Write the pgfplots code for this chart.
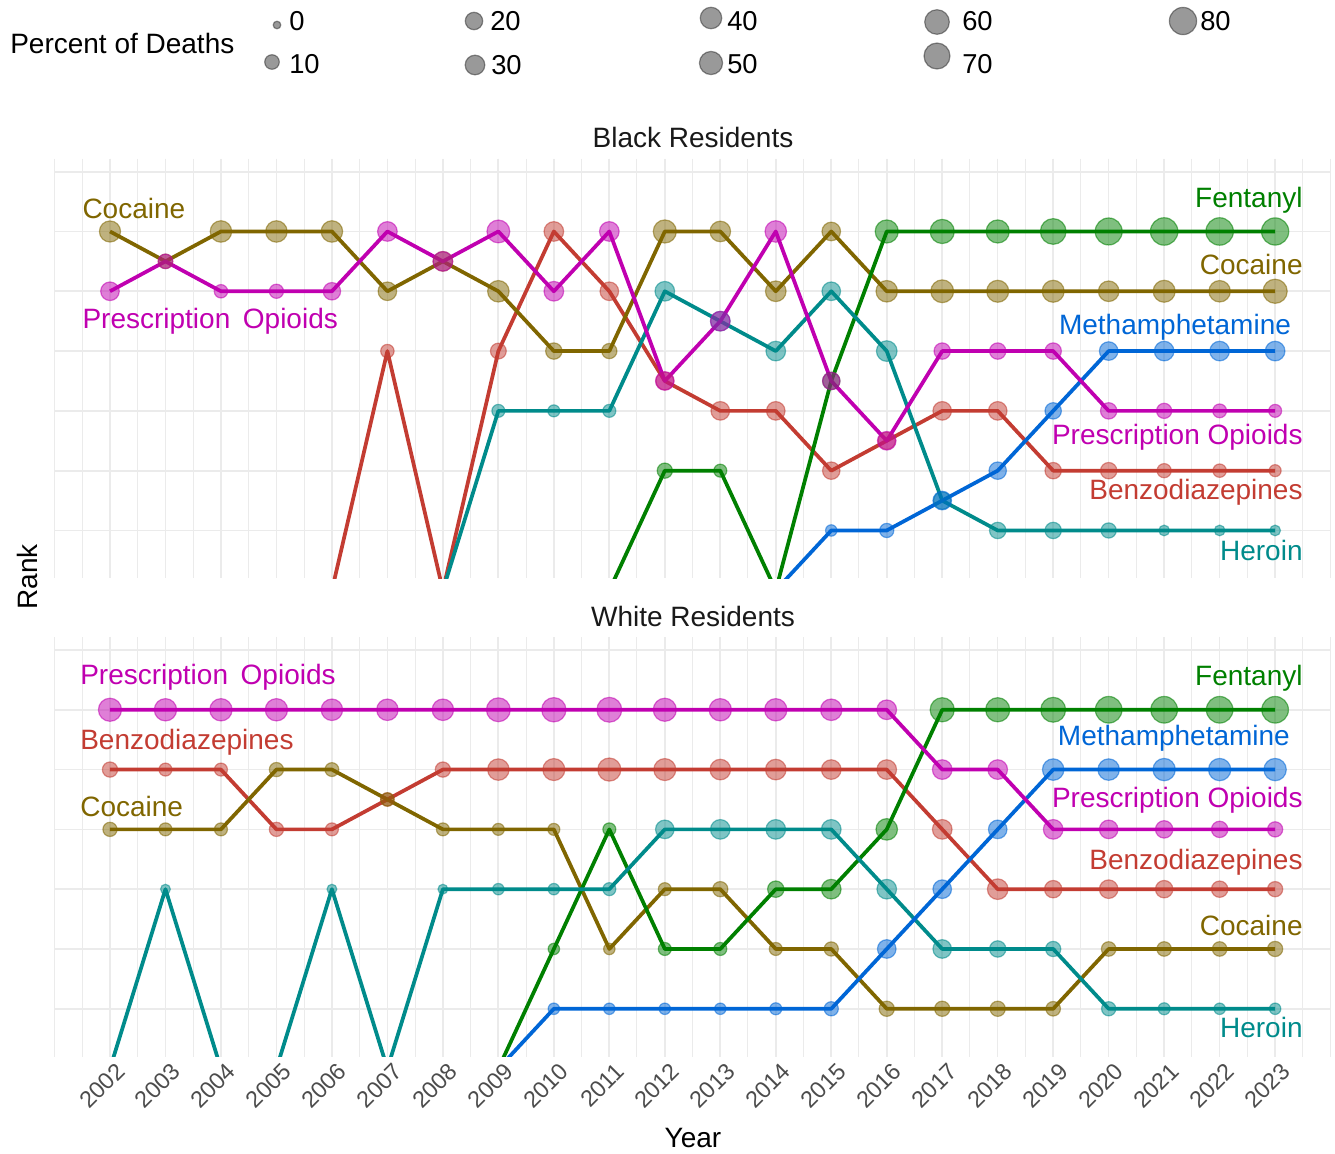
\documentclass[border=0pt]{standalone}
\usepackage{pgfplots}
\usepackage{pgfplotstable}
\usepackage{fontspec}
\setmainfont{Liberation Sans}
\pgfplotsset{compat=1.18}
\definecolor{benzC}{RGB}{195,60,50}
\definecolor{cocC}{RGB}{128,102,0}
\definecolor{fenC}{RGB}{0,128,0}
\definecolor{herC}{RGB}{0,139,139}
\definecolor{methC}{RGB}{0,102,214}
\definecolor{opiC}{RGB}{192,0,176}
\definecolor{gridC}{RGB}{235,235,235}
\newcommand\lbl{\fontsize{21}{24}\selectfont}
\newcommand\tkl{\fontsize{17.5}{20}\selectfont}
\newcommand\lgd{\fontsize{20.5}{23}\selectfont}

% ---------- Black residents: year rank percent ----------
\pgfplotstableread{
year rank p
2006 7 0
2007 3 7
2008 7 0
2009 3 14
2010 1 30
2011 2 25
2012 3.5 22
2013 4 25
2014 4 25
2015 5 20
2016 4.5 20
2017 4 25
2018 4 25
2019 5 16
2020 5 16
2021 5 9
2022 5 7
2023 5 4
}\BBenz
\pgfplotstableread{
year rank p
2002 1 38
2003 1.5 10
2004 1 40
2005 1 40
2006 1 40
2007 2 25
2008 1.5 30
2009 2 40
2010 3 16
2011 3 12
2012 1 50
2013 1 35
2014 2 35
2015 1 25
2016 2 40
2017 2 48
2018 2 43
2019 2 43
2020 2 35
2021 2 43
2022 2 40
2023 2 57
}\BCoc
\pgfplotstableread{
year rank p
2011 7 0
2012 5 12
2013 5 6
2014 7 0
2015 3.5 20
2016 1 50
2017 1 57
2018 1 50
2019 1 68
2020 1 78
2021 1 82
2022 1 82
2023 1 80
}\BFen
\pgfplotstableread{
year rank p
2008 7 0
2009 4 6
2010 4 4
2011 4 6
2012 2 30
2013 2.5 30
2014 3 30
2015 2 25
2016 3 35
2017 5.5 20
2018 6 16
2019 6 16
2020 6 12
2021 6 2
2022 6 2
2023 6 2
}\BHer
\pgfplotstableread{
year rank p
2014 7 0
2015 6 3
2016 6 9
2017 5.5 25
2018 5 20
2019 4 16
2020 3 25
2021 3 30
2022 3 30
2023 3 30
}\BMeth
\pgfplotstableread{
year rank p
2002 2 25
2003 1.5 10
2004 2 7
2005 2 9
2006 2 20
2007 1 30
2008 1.5 30
2009 1 48
2010 2 30
2011 1 30
2012 3.5 25
2013 2.5 30
2014 1 40
2015 3.5 20
2016 4.5 25
2017 3 16
2018 3 16
2019 3 16
2020 4 16
2021 4 12
2022 4 8
2023 4 6
}\BOpi

% ---------- White residents ----------
\pgfplotstableread{
year rank p
2002 2 12
2003 2 6
2004 2 6
2005 3 9
2006 3 6
2007 2.5 7
2008 2 12
2009 2 40
2010 2 43
2011 2 50
2012 2 43
2013 2 35
2014 2 35
2015 2 30
2016 2 30
2017 3 30
2018 4 35
2019 4 20
2020 4 25
2021 4 20
2022 4 16
2023 4 12
}\WBenz
\pgfplotstableread{
year rank p
2002 3 9
2003 3 6
2004 3 6
2005 2 9
2006 2 8
2007 2.5 7
2008 3 6
2009 3 4
2010 3 4
2011 5 3
2012 4 6
2013 4 12
2014 5 6
2015 5 9
2016 6 12
2017 6 12
2018 6 12
2019 6 10
2020 5 10
2021 5 10
2022 5 10
2023 5 12
}\WCoc
\pgfplotstableread{
year rank p
2009 7 0
2010 5 3
2011 3 6
2012 5 6
2013 5 6
2014 4 16
2015 4 30
2016 3 40
2017 1 57
2018 1 57
2019 1 62
2020 1 75
2021 1 75
2022 1 75
2023 1 75
}\WFen
\pgfplotstableread{
year rank p
2002 7 0
2003 4 1
2004 7 0
2005 7 0
2006 4 1
2007 7 0
2008 4 1
2009 4 3
2010 4 3
2011 4 6
2012 3 25
2013 3 30
2014 3 30
2015 3 30
2016 4 30
2017 5 25
2018 5 16
2019 5 12
2020 6 9
2021 6 4
2022 6 3
2023 6 3
}\WHer
\pgfplotstableread{
year rank p
2009 7 0
2010 6 3
2011 6 3
2012 6 3
2013 6 3
2014 6 4
2015 6 9
2016 5 25
2017 4 25
2018 3 25
2019 2 40
2020 2 40
2021 2 45
2022 2 45
2023 2 45
}\WMeth
\pgfplotstableread{
year rank p
2002 1 50
2003 1 45
2004 1 45
2005 1 45
2006 1 40
2007 1 40
2008 1 40
2009 1 55
2010 1 58
2011 1 62
2012 1 50
2013 1 45
2014 1 45
2015 1 40
2016 1 30
2017 2 30
2018 2 30
2019 3 30
2020 3 25
2021 3 20
2022 3 16
2023 3 12
}\WOpi

% ---------- size legend ----------
\pgfplotstableread{
x y p
277 25 0
272 62 10
474 21 20
475 65 30
711 18 40
711 63 50
937 22 60
937 56 70
1183 21 80
}\SizeLeg

\pgfplotsset{
  ln/.style={line width=2.8pt, line join=round, no markers, color=#1},
  ptsbase/.style={scatter, only marks, mark=*, point meta=\thisrow{p},
    scatter/use mapped color={draw=#1, fill=#1},
    visualization depends on={(3.8+9.8*sqrt(\thisrow{p}/80))*0.75 \as \msz},
    scatter/@pre marker code/.append style={/tikz/mark size=\msz pt},
    mark options={fill opacity=0.5, draw opacity=0.55, line width=0.9pt}},
  pts/.style={ptsbase=#1, restrict y to domain=-1:6.5},
  panel/.style={
    scale only axis, width=957.08pt, height=314.85pt,
    xmin=2001, xmax=2024, ymin=-0.22, ymax=6.8, y dir=reverse,
    xtick={2002,...,2023}, minor xtick={2001,2001.5,...,2024},
    ytick={0,...,6}, yticklabels={},
    grid=both,
    major grid style={draw=gridC, line width=1.3pt},
    minor grid style={draw=gridC, line width=0.7pt},
    axis line style={draw=none}, tick style={draw=none},
    major tick length=0pt, minor tick length=0pt,
    clip=true},
}

\begin{document}
\begin{tikzpicture}
\path[use as bounding box] (0pt,0pt) rectangle (1001.25pt,-864.75pt);

% ---------- legend axis ----------
\begin{axis}[at={(0pt,0pt)}, anchor=north west, scale only axis,
  width=1001.25pt, height=75pt, xmin=0, xmax=1335, ymin=0, ymax=100,
  y dir=reverse, hide axis, clip=false]
\addplot[ptsbase=black!80] table[x=x, y=y] {\SizeLeg};
\node[anchor=west, inner sep=0pt, font=\lbl] at (axis cs:10,43) {Percent of Deaths};
\node[anchor=west, inner sep=0pt, font=\lgd] at (axis cs:289,21) {0};
\node[anchor=west, inner sep=0pt, font=\lgd] at (axis cs:289,64) {10};
\node[anchor=west, inner sep=0pt, font=\lgd] at (axis cs:490,21) {20};
\node[anchor=west, inner sep=0pt, font=\lgd] at (axis cs:491,65) {30};
\node[anchor=west, inner sep=0pt, font=\lgd] at (axis cs:727,21) {40};
\node[anchor=west, inner sep=0pt, font=\lgd] at (axis cs:727,64) {50};
\node[anchor=west, inner sep=0pt, font=\lgd] at (axis cs:962,21) {60};
\node[anchor=west, inner sep=0pt, font=\lgd] at (axis cs:962,64) {70};
\node[anchor=west, inner sep=0pt, font=\lgd] at (axis cs:1200,21) {80};
\end{axis}

% ---------- Black residents ----------
\begin{axis}[panel, at={(40.875pt,-118.875pt)}, anchor=north west,
  xticklabels={}]
\addplot[ln=benzC] table[x=year,y=rank] {\BBenz};
\addplot[ln=cocC] table[x=year,y=rank] {\BCoc};
\addplot[ln=fenC] table[x=year,y=rank] {\BFen};
\addplot[ln=herC] table[x=year,y=rank] {\BHer};
\addplot[ln=methC] table[x=year,y=rank] {\BMeth};
\addplot[ln=opiC] table[x=year,y=rank] {\BOpi};
\addplot[pts=benzC] table[x=year,y=rank] {\BBenz};
\addplot[pts=cocC] table[x=year,y=rank] {\BCoc};
\addplot[pts=fenC] table[x=year,y=rank] {\BFen};
\addplot[pts=herC] table[x=year,y=rank] {\BHer};
\addplot[pts=methC] table[x=year,y=rank] {\BMeth};
\addplot[pts=opiC] table[x=year,y=rank] {\BOpi};
\node[anchor=west, inner sep=0pt, font=\lbl, text=cocC] at (axis cs:2001.5,0.62) {Cocaine};
\node[anchor=west, inner sep=0pt, font=\lbl, text=opiC] at (axis cs:2001.5,2.5) {Prescription\hspace{0.45em}Opioids};
\node[anchor=east, inner sep=0pt, font=\lbl, text=fenC] at (axis cs:2023.5,0.47) {Fentanyl};
\node[anchor=east, inner sep=0pt, font=\lbl, text=cocC] at (axis cs:2023.5,1.56) {Cocaine};
\node[anchor=east, inner sep=0pt, font=\lbl, text=methC] at (axis cs:2023.29,2.6) {Methamphetamine};
\node[anchor=east, inner sep=0pt, font=\lbl, text=opiC] at (axis cs:2023.5,4.44) {Prescription Opioids};
\node[anchor=east, inner sep=0pt, font=\lbl, text=benzC] at (axis cs:2023.5,5.36) {Benzodiazepines};
\node[anchor=east, inner sep=0pt, font=\lbl, text=herC] at (axis cs:2023.5,6.34) {Heroin};
\end{axis}

% ---------- White residents ----------
\begin{axis}[panel, at={(40.875pt,-477.6pt)}, anchor=north west,
  xticklabels={2002,2003,2004,2005,2006,2007,2008,2009,2010,2011,2012,2013,2014,2015,2016,2017,2018,2019,2020,2021,2022,2023},
  xticklabel style={rotate=45, anchor=north east, inner sep=0pt, font=\tkl, text=black!70, yshift=-5pt}]
\addplot[ln=benzC] table[x=year,y=rank] {\WBenz};
\addplot[ln=cocC] table[x=year,y=rank] {\WCoc};
\addplot[ln=fenC] table[x=year,y=rank] {\WFen};
\addplot[ln=herC] table[x=year,y=rank] {\WHer};
\addplot[ln=methC] table[x=year,y=rank] {\WMeth};
\addplot[ln=opiC] table[x=year,y=rank] {\WOpi};
\addplot[pts=benzC] table[x=year,y=rank] {\WBenz};
\addplot[pts=cocC] table[x=year,y=rank] {\WCoc};
\addplot[pts=fenC] table[x=year,y=rank] {\WFen};
\addplot[pts=herC] table[x=year,y=rank] {\WHer};
\addplot[pts=methC] table[x=year,y=rank] {\WMeth};
\addplot[pts=opiC] table[x=year,y=rank] {\WOpi};
\node[anchor=west, inner sep=0pt, font=\lbl, text=opiC] at (axis cs:2001.46,0.45) {Prescription\hspace{0.45em}Opioids};
\node[anchor=west, inner sep=0pt, font=\lbl, text=benzC] at (axis cs:2001.46,1.54) {Benzodiazepines};
\node[anchor=west, inner sep=0pt, font=\lbl, text=cocC] at (axis cs:2001.46,2.61) {Cocaine};
\node[anchor=east, inner sep=0pt, font=\lbl, text=fenC] at (axis cs:2023.5,0.47) {Fentanyl};
\node[anchor=east, inner sep=0pt, font=\lbl, text=methC] at (axis cs:2023.27,1.47) {Methamphetamine};
\node[anchor=east, inner sep=0pt, font=\lbl, text=opiC] at (axis cs:2023.5,2.51) {Prescription Opioids};
\node[anchor=east, inner sep=0pt, font=\lbl, text=benzC] at (axis cs:2023.5,3.55) {Benzodiazepines};
\node[anchor=east, inner sep=0pt, font=\lbl, text=cocC] at (axis cs:2023.5,4.6) {Cocaine};
\node[anchor=east, inner sep=0pt, font=\lbl, text=herC] at (axis cs:2023.5,6.32) {Heroin};
\end{axis}

% ---------- titles ----------
\begin{scope}[x=0.75pt, y=-0.75pt]
\node[font=\lbl, text=black!90, inner sep=0pt] at (693,137) {Black Residents};
\node[font=\lbl, text=black!90, inner sep=0pt] at (693,616) {White Residents};
\node[font=\lbl, inner sep=0pt] at (693,1138) {Year};
\node[font=\lbl, inner sep=0pt, rotate=90] at (27,577) {Rank};
\end{scope}
\end{tikzpicture}
\end{document}
